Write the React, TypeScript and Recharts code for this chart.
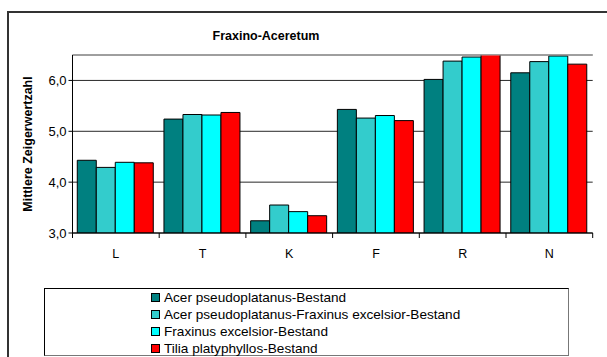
import React from "react";
import { BarChart, Bar, XAxis, YAxis, CartesianGrid, ReferenceLine, Legend } from "recharts";

const categories = ["L", "T", "K", "F", "R", "N"];
const acerValues = [4.43, 5.24, 3.24, 5.43, 6.02, 6.15];
const acerFraxValues = [4.29, 5.33, 3.55, 5.26, 6.38, 6.37];
const fraxValues = [4.39, 5.32, 3.42, 5.31, 6.46, 6.48];
const tiliaValues = [4.38, 5.37, 3.34, 5.21, 6.52, 6.32];
const yTicks = [3, 4, 5, 6];

const seriesNames = [
  "Acer pseudoplatanus-Bestand",
  "Acer pseudoplatanus-Fraxinus excelsior-Bestand",
  "Fraxinus excelsior-Bestand",
  "Tilia platyphyllos-Bestand",
];
const seriesKeys = ["acer", "acerFrax", "frax", "tilia"];
const seriesColors = ["#008080", "#33CCCC", "#00FFFF", "#FF0000"];

const data = categories.map((c, i) => ({
  cat: c,
  acer: acerValues[i],
  acerFrax: acerFraxValues[i],
  frax: fraxValues[i],
  tilia: tiliaValues[i],
}));

const FONT = "'Liberation Sans', Arial, sans-serif";

const XTick = (props: any) => {
  const { x, y, payload, index } = props;
  const off = payload && payload.offset ? payload.offset : 43.4;
  const axisY = y - 8;
  return (
    <g>
      <line x1={x - off} x2={x - off} y1={axisY} y2={axisY + 5} stroke="#000" />
      {index === categories.length - 1 && (
        <line x1={x + off} x2={x + off} y1={axisY} y2={axisY + 5} stroke="#000" />
      )}
      <text x={x} y={axisY + 25} textAnchor="middle" fontSize={12.5} fontFamily={FONT} fill="#000">
        {payload.value}
      </text>
    </g>
  );
};

const LegendContent = () => (
  <div
    style={{
      position: "absolute",
      left: 44,
      top: 288,
      width: 525,
      height: 68,
      border: "1px solid #000",
      borderBottomColor: "#777",
      borderRightColor: "#777",
      boxSizing: "border-box",
      background: "#fff",
    }}
  >
    {seriesNames.map((n, i) => (
      <div
        key={n}
        style={{
          position: "absolute",
          left: 106,
          top: 0 + i * 17,
          height: 17,
          display: "flex",
          alignItems: "center",
          fontFamily: FONT,
          fontSize: 13.6,
          color: "#000",
          whiteSpace: "nowrap",
        }}
      >
        <span
          style={{
            display: "inline-block",
            width: 7,
            height: 7,
            background: seriesColors[i],
            border: "1px solid #000",
            marginRight: 4,
          }}
        />
        {n}
      </div>
    ))}
  </div>
);

export default function App() {
  return (
    <div
      style={{
        position: "absolute",
        left: 0,
        top: 0,
        width: 607,
        height: 357,
        overflow: "hidden",
        background: "#fff",
      }}
    >
      <div
        style={{
          position: "absolute",
          left: 7,
          top: 11,
          width: 700,
          height: 400,
          borderLeft: "2px solid #333",
          borderTop: "2px solid #333",
        }}
      />
      <div
        style={{
          position: "absolute",
          left: 166,
          width: 200,
          top: 29,
          textAlign: "center",
          fontFamily: FONT,
          fontWeight: "bold",
          fontSize: 12.5,
          color: "#000",
        }}
      >
        Fraxino-Aceretum
      </div>
      <div
        style={{
          position: "absolute",
          left: 28 - 90,
          top: 144 - 8,
          width: 180,
          height: 16,
          lineHeight: "16px",
          textAlign: "center",
          transform: "rotate(-90deg)",
          fontFamily: FONT,
          fontWeight: "bold",
          fontSize: 12.5,
          color: "#000",
        }}
      >
        Mittlere Zeigerwertzahl
      </div>
      <div style={{ position: "absolute", left: 0, top: 0 }}>
        <BarChart
          width={607}
          height={357}
          data={data}
          margin={{ top: 55, left: 32.5, right: 14.3, bottom: 94 }}
          barCategoryGap="5.5%"
          barGap={0}
        >
          <CartesianGrid vertical={false} horizontal={true} stroke="#000" strokeOpacity={0.85} />
          <ReferenceLine y={6.5} stroke="#aaa" />
          <XAxis
            dataKey="cat"
            height={30}
            axisLine={{ stroke: "#000" }}
            tickLine={false}
            tick={<XTick />}
            interval={0}
          />
          <YAxis
            width={40}
            domain={[3, 6.5]}
            allowDataOverflow
            ticks={yTicks}
            tickFormatter={(v: number) => v.toFixed(1).replace(".", ",")}
            axisLine={{ stroke: "#000" }}
            tickLine={{ stroke: "#000" }}
            tickSize={4}
            tick={{ fontSize: 13, fontFamily: FONT, fill: "#000" }}
          />
          <YAxis
            yAxisId="right"
            orientation="right"
            width={0}
            domain={[3, 6.5]}
            tick={false}
            tickLine={false}
            axisLine={{ stroke: "#999" }}
          />
          {seriesKeys.map((k, i) => (
            <Bar
              key={k}
              dataKey={k}
              name={seriesNames[i]}
              fill={seriesColors[i]}
              stroke="#000"
              strokeWidth={1}
              isAnimationActive={false}
            />
          ))}
          <Legend content={<LegendContent />} wrapperStyle={{ position: "absolute", left: 0, top: 0, width: 0, height: 0 }} />
        </BarChart>
      </div>
    </div>
  );
}
